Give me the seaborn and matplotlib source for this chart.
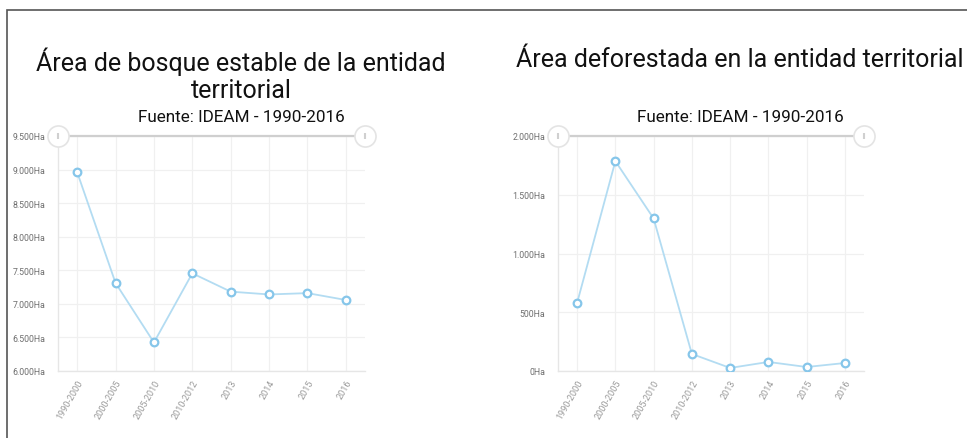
import matplotlib
matplotlib.use("Agg")
import matplotlib.pyplot as plt
import matplotlib.ticker as mticker
import seaborn as sns
import pandas as pd

periodos = ["1990-2000", "2000-2005", "2005-2010", "2010-2012", "2013", "2014", "2015", "2016"]
bosque_estable = [8960, 7310, 6425, 7455, 7182, 7140, 7160, 7058]
deforestada = [580, 1786, 1298, 145, 26, 77, 34, 68]

titulo_izq = "Área de bosque estable de la entidad\nterritorial"
titulo_der = "Área deforestada en la entidad territorial"
subtitulo = "Fuente: IDEAM - 1990-2016"

sns.set_theme(style="white")
plt.rcParams["font.family"] = ["Roboto", "DejaVu Sans"]

fig = plt.figure(figsize=(9.67, 4.39), dpi=100)

H = 439.0
W = 967.0

# outer border
fig.patches.append(plt.Rectangle((7 / W, -0.1), 1.2, (H - 11) / H + 0.1,
                                 transform=fig.transFigure, fill=False,
                                 edgecolor="#555555", linewidth=1.2))

ax1 = fig.add_axes([58 / W, (H - 372) / H, (365 - 58) / W, (372 - 137) / H])
ax2 = fig.add_axes([558 / W, (H - 372) / H, (864 - 558) / W, (372 - 137) / H])

line_c = "#b3dcf2"
mark_c = "#86c6ea"


def fmt(v, pos):
    return f"{int(round(v)):,}".replace(",", ".") + "Ha"


def draw(ax, vals, ymin, ymax, step):
    df = pd.DataFrame({"periodo": periodos, "valor": vals})
    sns.lineplot(data=df, x="periodo", y="valor", ax=ax, sort=False, color=line_c,
                 linewidth=1.3, marker="o", markersize=5.5, markerfacecolor="white",
                 markeredgecolor=mark_c, markeredgewidth=1.6, zorder=3)
    ax.set_xlim(-0.5, len(periodos) - 0.5)
    ax.set_ylim(ymin, ymax)
    ax.yaxis.set_major_locator(mticker.MultipleLocator(step))
    ax.yaxis.set_major_formatter(mticker.FuncFormatter(fmt))
    ax.set_xlabel("")
    ax.set_ylabel("")
    ax.grid(True, color="#f0f0f0", linewidth=0.9)
    ax.set_axisbelow(True)
    for s in ["top", "right"]:
        ax.spines[s].set_visible(False)
    for s in ["left", "bottom"]:
        ax.spines[s].set_color("#e6e6e6")
        ax.spines[s].set_linewidth(1.0)
    ax.tick_params(axis="y", labelsize=6.3, colors="#6f6f6f", length=0, pad=9)
    ax.tick_params(axis="x", labelsize=6.5, colors="#999999", length=0, pad=5)
    for lab in ax.get_xticklabels():
        lab.set_rotation(60)
        lab.set_ha("right")
        lab.set_rotation_mode("anchor")
    # range slider decoration on top
    ax.plot([0, 1], [1, 1], transform=ax.transAxes, color="#cfcfcf", linewidth=1.6,
            clip_on=False, zorder=4)
    ax.scatter([0, 1], [1, 1], transform=ax.transAxes, s=230, facecolor="white",
               edgecolor="#e4e4e4", linewidth=1.2, clip_on=False, zorder=5)
    ax.scatter([0, 1], [1, 1], transform=ax.transAxes, s=20, marker="|",
               color="#d0d0d0", linewidth=1.5, clip_on=False, zorder=6)


draw(ax1, bosque_estable, 6000, 9500, 500)
draw(ax2, deforestada, 0, 2000, 500)

fig.text(241 / W, 1 - 75 / H, titulo_izq, ha="center", va="center", fontsize=18,
         color="#111111", linespacing=1.15)
fig.text(241 / W, 1 - 118 / H, subtitulo, ha="center", va="center", fontsize=12.3,
         color="#111111")
fig.text(740 / W, 1 - 60 / H, titulo_der, ha="center", va="center", fontsize=18,
         color="#111111")
fig.text(740 / W, 1 - 118 / H, subtitulo, ha="center", va="center", fontsize=12.3,
         color="#111111")

fig.savefig("out.png", dpi=100, facecolor="white")
